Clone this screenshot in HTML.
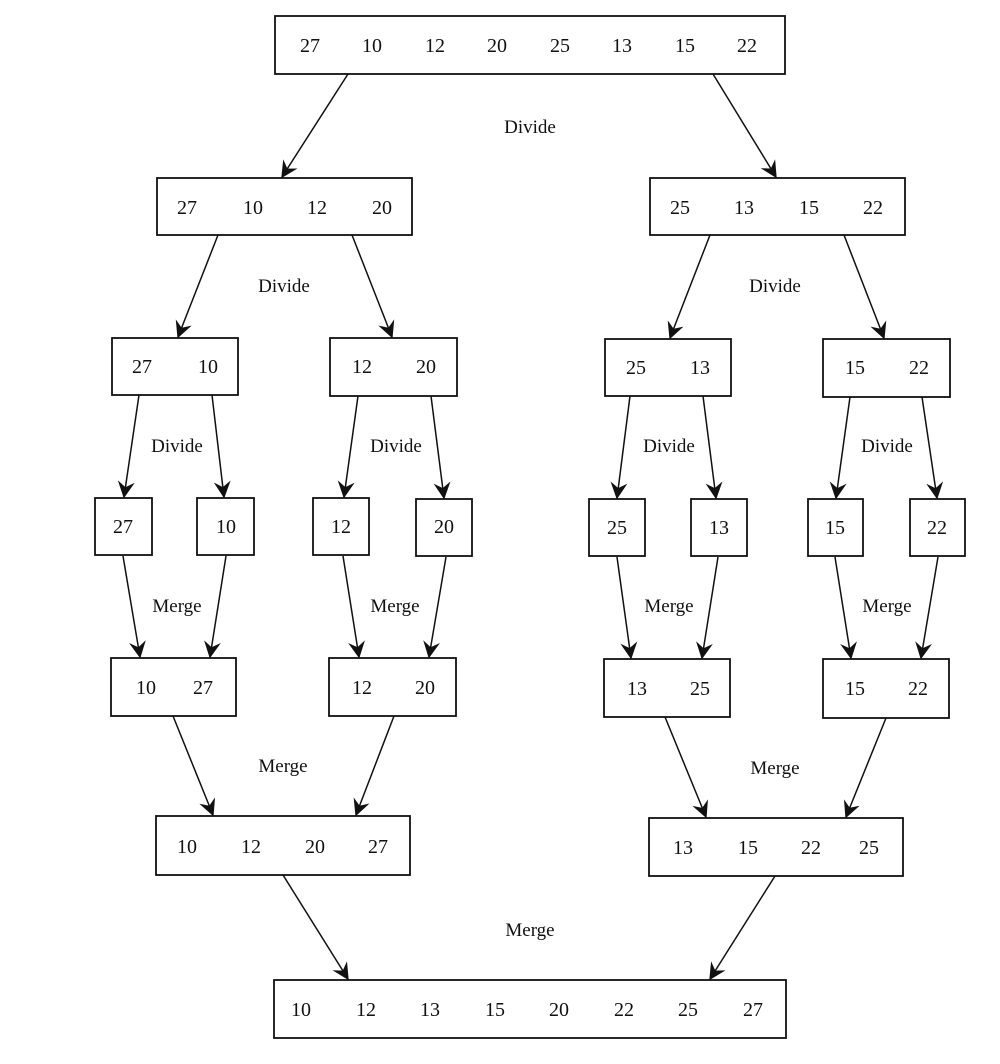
<!DOCTYPE html>
<html><head><meta charset="utf-8"><style>
html,body{margin:0;padding:0;background:#fff;}
svg{display:block;}
text{font-family:"Liberation Serif",serif;fill:#111;}
.n{font-size:20px;text-anchor:middle;}
.l{font-size:19px;text-anchor:middle;}
rect{fill:#fff;stroke:#111;stroke-width:1.8;}
line{stroke:#111;stroke-width:1.5;}
</style></head><body>
<svg width="1000" height="1064" viewBox="0 0 1000 1064" xmlns="http://www.w3.org/2000/svg">
<defs>
<marker id="a" viewBox="0 0 12 12" refX="11" refY="6" markerWidth="17" markerHeight="17" markerUnits="userSpaceOnUse" orient="auto">
<path d="M0,0 L12,6 L0,12 L4,6 z" fill="#111"/>
</marker>
</defs>

<rect x="275" y="16" width="510" height="58"/>
<rect x="157" y="178" width="255" height="57"/>
<rect x="650" y="178" width="255" height="57"/>
<rect x="112" y="338" width="126" height="57"/>
<rect x="330" y="338" width="127" height="58"/>
<rect x="605" y="339" width="126" height="57"/>
<rect x="823" y="339" width="127" height="58"/>
<rect x="95" y="498" width="57" height="57"/>
<rect x="197" y="498" width="57" height="57"/>
<rect x="313" y="498" width="56" height="57"/>
<rect x="416" y="499" width="56" height="57"/>
<rect x="589" y="499" width="56" height="57"/>
<rect x="691" y="499" width="56" height="57"/>
<rect x="808" y="499" width="55" height="57"/>
<rect x="910" y="499" width="55" height="57"/>
<rect x="111" y="658" width="125" height="58"/>
<rect x="329" y="658" width="127" height="58"/>
<rect x="604" y="659" width="126" height="58"/>
<rect x="823" y="659" width="126" height="59"/>
<rect x="156" y="816" width="254" height="59"/>
<rect x="649" y="818" width="254" height="58"/>
<rect x="274" y="980" width="512" height="58"/>

<g class="n">
<text x="310" y="52">27</text><text x="372" y="52">10</text><text x="435" y="52">12</text><text x="497" y="52">20</text><text x="560" y="52">25</text><text x="622" y="52">13</text><text x="685" y="52">15</text><text x="747" y="52">22</text>
<text x="187" y="214">27</text><text x="253" y="214">10</text><text x="317" y="214">12</text><text x="382" y="214">20</text>
<text x="680" y="214">25</text><text x="744" y="214">13</text><text x="809" y="214">15</text><text x="873" y="214">22</text>
<text x="142" y="373">27</text><text x="208" y="373">10</text>
<text x="362" y="373">12</text><text x="426" y="373">20</text>
<text x="636" y="374">25</text><text x="700" y="374">13</text>
<text x="855" y="374">15</text><text x="919" y="374">22</text>
<text x="123" y="533">27</text><text x="226" y="533">10</text><text x="341" y="533">12</text><text x="444" y="533">20</text>
<text x="617" y="534">25</text><text x="719" y="534">13</text><text x="835" y="534">15</text><text x="937" y="534">22</text>
<text x="146" y="694">10</text><text x="203" y="694">27</text>
<text x="362" y="694">12</text><text x="425" y="694">20</text>
<text x="637" y="695">13</text><text x="700" y="695">25</text>
<text x="855" y="695">15</text><text x="918" y="695">22</text>
<text x="187" y="853">10</text><text x="251" y="853">12</text><text x="315" y="853">20</text><text x="378" y="853">27</text>
<text x="683" y="854">13</text><text x="748" y="854">15</text><text x="811" y="854">22</text><text x="869" y="854">25</text>
<text x="301" y="1016">10</text><text x="366" y="1016">12</text><text x="430" y="1016">13</text><text x="495" y="1016">15</text><text x="559" y="1016">20</text><text x="624" y="1016">22</text><text x="688" y="1016">25</text><text x="753" y="1016">27</text>
</g>

<g class="l">
<text x="530" y="133">Divide</text>
<text x="284" y="292">Divide</text>
<text x="775" y="292">Divide</text>
<text x="177" y="452">Divide</text>
<text x="396" y="452">Divide</text>
<text x="669" y="452">Divide</text>
<text x="887" y="452">Divide</text>
<text x="177" y="612">Merge</text>
<text x="395" y="612">Merge</text>
<text x="669" y="612">Merge</text>
<text x="887" y="612">Merge</text>
<text x="283" y="772">Merge</text>
<text x="775" y="774">Merge</text>
<text x="530" y="936">Merge</text>
</g>

<g marker-end="url(#a)">
<line x1="348" y1="74" x2="282" y2="177"/>
<line x1="713" y1="74" x2="776" y2="177"/>
<line x1="218" y1="235" x2="178" y2="337"/>
<line x1="352" y1="235" x2="392" y2="337"/>
<line x1="710" y1="235" x2="670" y2="338"/>
<line x1="844" y1="235" x2="884" y2="338"/>
<line x1="139" y1="395" x2="124" y2="497"/>
<line x1="212" y1="395" x2="224" y2="497"/>
<line x1="358" y1="396" x2="344" y2="497"/>
<line x1="431" y1="396" x2="444" y2="498"/>
<line x1="630" y1="396" x2="617" y2="498"/>
<line x1="703" y1="396" x2="716" y2="498"/>
<line x1="850" y1="397" x2="836" y2="498"/>
<line x1="922" y1="397" x2="937" y2="498"/>
<line x1="123" y1="556" x2="140" y2="657"/>
<line x1="226" y1="556" x2="210" y2="657"/>
<line x1="343" y1="556" x2="359" y2="657"/>
<line x1="446" y1="557" x2="429" y2="657"/>
<line x1="617" y1="557" x2="631" y2="658"/>
<line x1="718" y1="557" x2="702" y2="658"/>
<line x1="835" y1="557" x2="851" y2="658"/>
<line x1="938" y1="557" x2="921" y2="658"/>
<line x1="173" y1="716" x2="213" y2="815"/>
<line x1="394" y1="716" x2="356" y2="815"/>
<line x1="665" y1="717" x2="706" y2="817"/>
<line x1="886" y1="718" x2="846" y2="817"/>
<line x1="283" y1="875" x2="348" y2="979"/>
<line x1="775" y1="876" x2="710" y2="979"/>
</g>
</svg>
</body></html>
